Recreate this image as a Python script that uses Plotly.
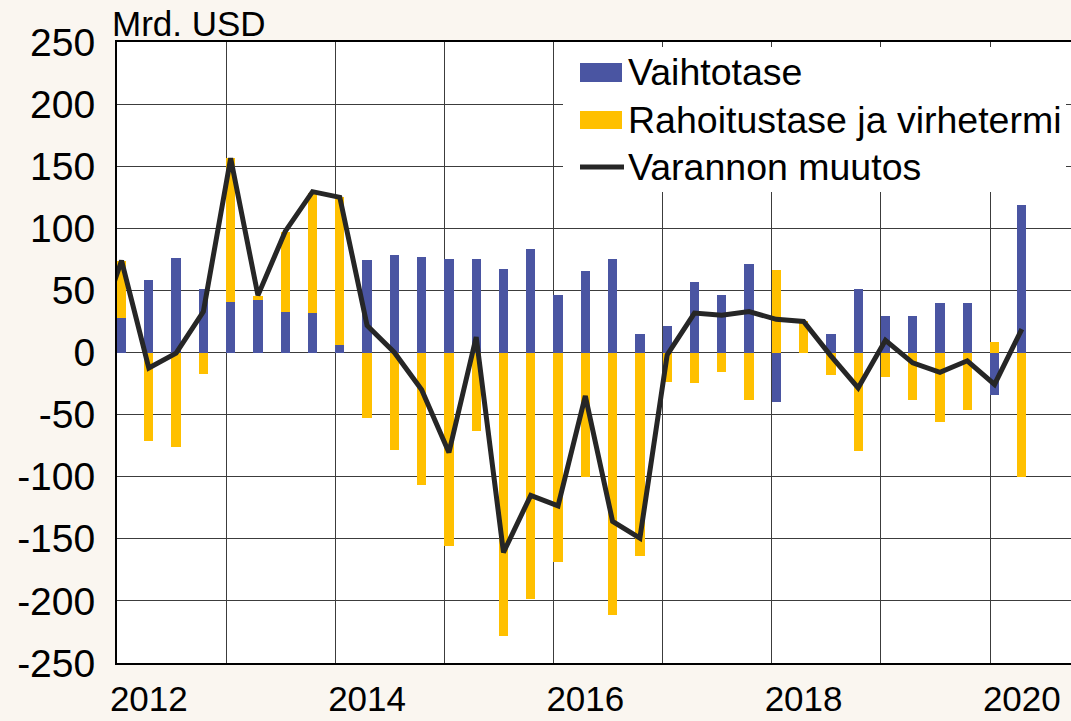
import plotly.graph_objects as go
import numpy as np

# ---- data (Mrd. USD), quarterly ----
quarters = ["2011Q4",
            "2012Q1", "2012Q2", "2012Q3", "2012Q4",
            "2013Q1", "2013Q2", "2013Q3", "2013Q4",
            "2014Q1", "2014Q2", "2014Q3", "2014Q4",
            "2015Q1", "2015Q2", "2015Q3", "2015Q4",
            "2016Q1", "2016Q2", "2016Q3", "2016Q4",
            "2017Q1", "2017Q2", "2017Q3", "2017Q4",
            "2018Q1", "2018Q2", "2018Q3", "2018Q4",
            "2019Q1", "2019Q2", "2019Q3", "2019Q4",
            "2020Q1", "2020Q2"]

vaihtotase = [None,
              28, 58.7, 75.8, 51.4,
              41, 42.6, 32.4, 31.5,
              6, 74.7, 78.2, 76.6,
              75.5, 75.5, 67, 83.3,
              46, 65.6, 75, 14.5,
              21.5, 56.5, 46.6, 71.3,
              -40, 0, 15.3, 51.2,
              29.7, 29.7, 39.9, 39.9,
              -34, 119]

rahoitustase = [None,
                45.8, -71, -76, -17.5,
                115.4, 3.2, 65, 97.3,
                119, -53, -78.5, -107,
                -156, -63, -228, -198.5,
                -169, -100.5, -211, -163.5,
                -24, -24.6, -15.3, -38.3,
                66.7, 25, -18, -79.6,
                -20, -38, -56, -46.6,
                8.3, -100.2]

varannon_muutos = [10,
                   74, -12.5, -0.5, 33,
                   156.5, 46, 97.5, 129.5,
                   125, 21.7, 0, -30,
                   -80.5, 12.5, -161, -115,
                   -123.5, -35, -136, -149.5,
                   -2, 31.7, 30, 33,
                   26.7, 25, -2.7, -28.5,
                   9.8, -8.3, -16, -6.7,
                   -25.7, 18.8]

year_labels = [2012, 2014, 2016, 2018, 2020]
y_ticks = [250, 200, 150, 100, 50, 0, -50, -100, -150, -200, -250]
series_names = ["Vaihtotase", "Rahoitustase ja virhetermi", "Varannon muutos"]
unit_label = "Mrd. USD"

# ---- layout constants ----
W, H = 1071, 721
L, R, T, B = 117, 0, 42, 58
PW, PH = W - L - R, H - T - B
BLUE, GOLD, LINE = "#4a55a2", "#ffc000", "#262626"
BG = "#faf6f0"
GRID = "#3c3c3c"
FONT = "Liberation Sans, Arial, sans-serif"


def px(x):
    return (x - L) / PW


def py(y):
    return (H - B - y) / PH


first_year = 2012
# quarter index relative to 2012Q1
k = np.array([(int(q[:4]) - first_year) * 4 + int(q[-1]) - 1 for q in quarters])
off = 1.0 / 6.0  # half a month: gridline sits at the left edge of the January slot
x_range = [-off, -off + PW / (873 / 32)]

fig = go.Figure()
fig.add_bar(x=k, y=vaihtotase, name=series_names[0], marker_color=BLUE,
            marker_line_width=0, width=0.34, showlegend=False)
fig.add_bar(x=k, y=rahoitustase, name=series_names[1], marker_color=GOLD,
            marker_line_width=0, width=0.34, showlegend=False)
fig.add_scatter(x=k, y=varannon_muutos, name=series_names[2], mode="lines",
                line=dict(color=LINE, width=5), showlegend=False)

label_pos = [(y - first_year) * 4 + 1 for y in year_labels]
fig.add_scatter(x=label_pos, y=[0] * len(label_pos), xaxis="x2", mode="markers",
                marker=dict(opacity=0), hoverinfo="skip", showlegend=False)

fig.update_layout(
    width=W, height=H,
    margin=dict(l=L, r=R, t=T, b=B, autoexpand=False),
    paper_bgcolor=BG, plot_bgcolor="white",
    barmode="relative", bargap=0,
    font=dict(family=FONT, color="black", size=35),
    xaxis=dict(range=x_range, tickmode="array",
               tickvals=[4 * j - off for j in range(9)],
               showticklabels=False, ticks="", automargin=False,
               showgrid=True, gridcolor=GRID, gridwidth=1,
               zeroline=False,
               showline=True, linecolor="black", linewidth=2, mirror=True),
    xaxis2=dict(range=x_range, overlaying="x", anchor="y", side="bottom",
                tickmode="array", tickvals=label_pos,
                ticktext=[str(y) for y in year_labels], automargin=False,
                showgrid=False, zeroline=False, showline=False, ticks="",
                tickfont=dict(size=35, family=FONT, color="black"),
                ticklabelstandoff=12),
    yaxis=dict(range=[-250, 250], tickmode="array", tickvals=y_ticks,
               ticktext=[str(v) for v in y_ticks], automargin=False,
               showgrid=True, gridcolor=GRID, gridwidth=1,
               zeroline=True, zerolinecolor=GRID, zerolinewidth=1,
               showline=True, linecolor="black", linewidth=2, ticks="",
               tickfont=dict(size=39, family=FONT, color="black"),
               ticklabelstandoff=12),
)

# unit label
fig.add_annotation(text=unit_label, xref="paper", yref="paper",
                   x=px(110), y=py(23), xanchor="left", yanchor="middle",
                   showarrow=False, font=dict(size=35, family=FONT, color="black"))

# legend (white box with swatches)
shapes = [
    dict(type="rect", xref="paper", yref="paper", x0=px(563), x1=px(1066),
         y0=py(192), y1=py(47), fillcolor="white", line=dict(width=0), layer="above"),
    dict(type="rect", xref="paper", yref="paper", x0=px(580), x1=px(622),
         y0=py(82), y1=py(63), fillcolor=BLUE, line=dict(width=0), layer="above"),
    dict(type="rect", xref="paper", yref="paper", x0=px(580), x1=px(622),
         y0=py(129), y1=py(111), fillcolor=GOLD, line=dict(width=0), layer="above"),
    dict(type="line", xref="paper", yref="paper", x0=px(580), x1=px(624),
         y0=py(167), y1=py(167), line=dict(color=LINE, width=5), layer="above"),
]
for s in shapes:
    fig.add_shape(**s)

for name, yc in zip(series_names, [72, 120, 167]):
    fig.add_annotation(text=name, xref="paper", yref="paper",
                       x=px(626), y=py(yc), xanchor="left", yanchor="middle",
                       showarrow=False, font=dict(size=37.5, family=FONT, color="black"))

page_js = ("document.body.style.margin='0';document.body.style.padding='0';"
           "document.body.style.overflow='hidden';"
           "document.documentElement.style.overflow='hidden';"
           "document.body.style.background='" + BG + "';")
fig.write_html("out.html", post_script=page_js,
               config={"displayModeBar": False})
